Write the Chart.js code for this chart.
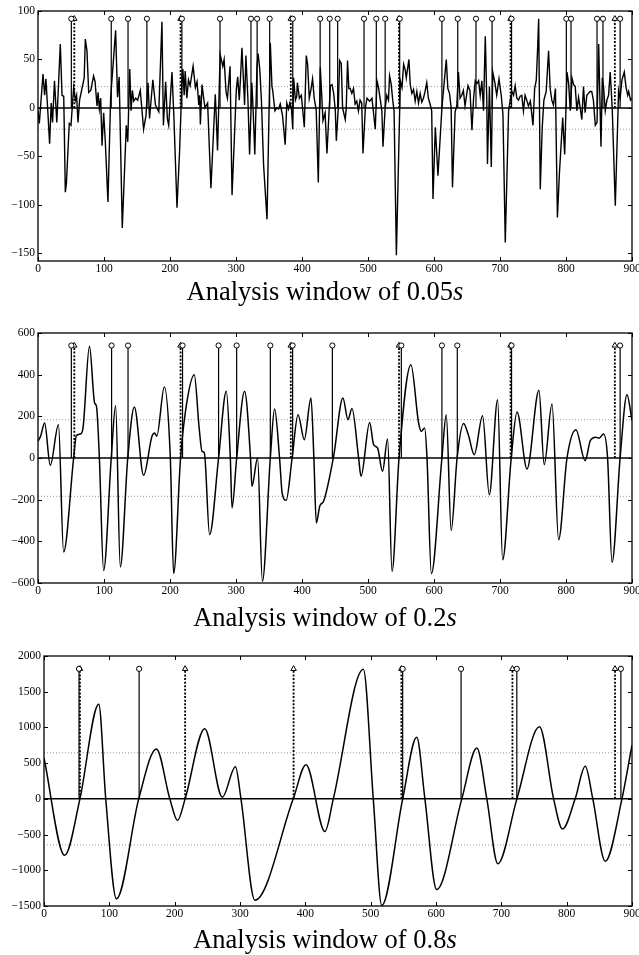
<!DOCTYPE html>
<html><head><meta charset="utf-8">
<script src="https://cdn.jsdelivr.net/npm/chart.js@4/dist/chart.umd.min.js"></script>
<style>
html,body{margin:0;padding:0;background:#fff;overflow:hidden;}
#wrap{position:relative;width:639px;height:955px;overflow:hidden;background:#fff;}
.pc{position:absolute;left:0;width:660px;height:281px;}
.ttl{position:absolute;left:0;width:650px;text-align:center;font-family:'Liberation Serif','Times New Roman',serif;font-size:26.5px;line-height:26px;color:#000;white-space:nowrap;}
</style></head><body>
<div id="wrap">
<div class="pc" style="top:0px"><canvas id="c1" width="660" height="281"></canvas></div>
<div class="pc" style="top:322px"><canvas id="c2" width="660" height="281"></canvas></div>
<div class="pc" style="top:645px"><canvas id="c3" width="660" height="281"></canvas></div>
<div class="ttl" style="top:278px">Analysis window of 0.05<i>s</i></div>
<div class="ttl" style="top:604px">Analysis window of 0.2<i>s</i></div>
<div class="ttl" style="top:926px">Analysis window of 0.8<i>s</i></div>
</div>
<script>
// ---------- data ----------
const xTicks = [0,100,200,300,400,500,600,700,800,900];
const yTicks1 = [-150,-100,-50,0,50,100];
const yTicks2 = [-600,-400,-200,0,200,400,600];
const yTicks3 = [-1500,-1000,-500,0,500,1000,1500,2000];

// signal, window 0.05 s  [sample, value]
const sig05 = [
[0,-3],[2,-16],[7.6,35],[10,13],[12,30],[15,-5],[17.6,-37],[20,5],[22,-15],[25,28],[28.5,-15],[33.8,66],[36.4,13],[39,12],[41.4,-87],[43,-78],[47.4,-16],[50,-18],[54,21],[56.7,8],[58.5,13],[60.6,-15],[63,8],[70,31],[71.7,71],[74.2,59],[76.8,16],[80,18],[84.2,33],[86.5,27],[89.4,2],[91,16],[93,-1],[95,10],[97,-39],[99.5,-5],[102,-35],[106,-97],[110,10],[117.6,80],[120.5,11],[123,32],[127.7,-124],[133.8,-18],[136,-35],[139,40],[141,-3],[143,18],[145,7],[148,10],[151,8],[155,18],[160,-22],[163.6,-8],[166.7,26],[169,-11],[174,29],[178,3],[183,-4],[187.8,89],[190,-18],[193.4,27],[196,-11],[198,-18],[203,37],[206,-11],[210.6,-103],[214.5,-45],[218,25],[219.5,40],[221.5,13],[223,38],[225.5,10],[228,29],[230.5,23],[235,43],[238.5,21],[241,27],[243.6,3],[245,13],[246,-17],[248.5,24],[251,10],[253,0],[257,5],[262,-83],[268.6,14],[270,-8],[272,-44],[276,55],[280,43],[282,50],[285,16],[287,10],[291,43],[294,-90],[297,-40],[300.5,19],[302.5,32],[305,8],[306.5,27],[309,62],[313,3],[315,54],[318,10],[320.6,-48],[324,26],[326,-3],[328.5,-48],[331.8,43],[333.5,56],[336,40],[338.5,8],[341.8,-59],[347,-115],[352,67],[354.5,22],[355.6,18],[359,-3],[362,0],[364.5,-1],[367,4],[370.5,-8],[374.5,-38],[377,5],[379.5,-1],[381.5,5],[384,0],[386,-22],[387.3,31],[390,8],[392,12],[393,26],[396,10],[399,13],[403.5,-20],[406.5,54],[408.5,45],[411,10],[413.6,19],[416,30],[418.5,10],[421.5,-2],[424.7,-77],[427.7,42],[431.8,-13],[435,-5],[437.8,-47],[443,23],[445.5,24],[448,15],[450.5,-3],[452,-34],[455,0],[457,49],[459.5,46],[461.5,0],[465.5,-12],[467,-1],[469,49],[471,20],[473,20],[475.5,15],[478,20],[480.5,4],[483,7],[485.5,-3],[488,8],[490.5,5],[492.4,-47],[496,0],[498.5,10],[502.5,7],[506,10],[511,-22],[513.6,28],[516,21],[518.5,9],[521,-3],[522.7,-40],[526,0],[528.5,13],[531,8],[532.7,33],[535,25],[537.5,8],[539.5,-3],[543,-152],[549,28],[551.5,21],[554,45],[556.5,39],[558,31],[562,50],[564,24],[566.5,15],[569,19],[571.5,7],[574,17],[576.5,5],[579,15],[581.5,6],[584,10],[586.5,17],[589,26],[591.5,10],[594,4],[596.5,-3],[598.5,-94],[602,-20],[606,-70],[612,0],[618.6,50],[621,20],[623.5,15],[626,0],[628,-82],[632,-4],[634.5,2],[637,37],[639.5,10],[642,13],[644.5,18],[647,2],[651.5,23],[654.5,18],[657.5,-23],[660,10],[662.5,28],[665,25],[667.6,28],[670,13],[672.5,28],[675,-3],[677.7,74],[680,8],[681,-58],[684,22],[686.8,-61],[689,37],[692.5,25],[695,13],[698.5,30],[702,12],[704.5,-7],[708,-139],[713,-3],[715.5,8],[718,17],[720.5,13],[723,23],[725.5,10],[728,8],[730.5,12],[733,13],[735.5,-3],[738,13],[740.5,8],[743,2],[746,7],[750,-18],[752.5,20],[755,29],[757,61],[758.6,92],[761,-84],[764,-20],[766.5,8],[770,17],[773.6,59],[776,20],[778.5,8],[781,3],[784,20],[787,-113],[790,-68],[795,-10],[798,-48],[801.5,37],[804,25],[806.5,-3],[809,31],[811.5,24],[814,22],[816.5,-3],[819,11],[821.5,0],[824,-12],[826.5,22],[829,-5],[831.5,13],[834,15],[836.5,17],[839,17],[841.5,8],[844.4,-18],[847,-15],[849.5,66],[851,20],[853,-40],[855,31],[857,21],[859.5,-3],[862,8],[864.5,13],[867,37],[870,0],[874.7,-101],[879.7,18],[882,10],[884.8,29],[888.3,37],[891,21],[893.5,13],[895,17],[897.7,8],[900,10]
];
// signal, window 0.2 s
const sig02 = [
[0,80],[4,105],[10,168],[18.6,-35],[31,160],[38.8,-451],[54,0],[58,107],[64,115],[68,140],[78,536],[85.8,264],[88.6,248],[93,0],[99.4,-540],[111,0],[117.6,251],[124.7,-523],[136,0],[146,245],[160,-83],[172.7,104],[176.7,120],[180,105],[191.4,341],[200.5,0],[205.5,-555],[216,0],[224.7,251],[236.8,400],[244,150],[248.5,32],[252,25],[260,-368],[273.6,0],[285.3,320],[291.4,0],[294,-240],[301,0],[313,320],[322,0],[324.2,-136],[332.7,0],[340,-592],[352,0],[358.5,235],[366,0],[370,-170],[376,-203],[385,0],[394,208],[403.5,88],[413.6,288],[418,0],[421.7,-312],[427,-230],[432.7,-208],[447.9,8],[462,288],[469.7,184],[475.7,238],[485.8,0],[489.4,-88],[502.5,171],[508.5,64],[514.5,48],[522,-64],[529.7,91],[536.4,-544],[547,0],[565,448],[576.7,168],[580.8,128],[585.8,144],[589.4,0],[596,-555],[612,0],[618.6,208],[626,-348],[635,0],[644.8,165],[652,112],[661,16],[673.6,203],[683.8,-176],[696.4,280],[704,-488],[717,0],[725.8,221],[741,-53],[759,325],[767,-32],[778.8,259],[788.8,-392],[801.5,0],[815,136],[829,-13],[837,85],[845,100],[850,95],[857,115],[863,0],[869.7,-501],[882,0],[892.4,304],[900,180]
];
// signal, window 0.8 s
const sig08 = [
[0,572],[31.7,-791],[55,0],[83.8,1325],[94.5,0],[110.9,-1400],[145,0],[172,698],[192.6,0],[204.4,-302],[216,0],[246,981],[273,24],[293,451],[301.5,0],[322.8,-1419],[381.5,0],[401,479],[430,-456],[442.8,0],[488.8,1814],[504,0],[517,-1493],[549,0],[570.5,861],[583,0],[601,-1270],[639.5,0],[662.5,711],[677.8,0],[694.6,-907],[723.8,0],[758.4,1009],[780,0],[793.6,-423],[813,0],[828.4,455],[840,0],[859,-874],[884.6,0],[900,753]
];

// detected (circles) and reference (triangles) positions
const circ05 = [50.5,111,136.4,165,218,275.8,322.7,332,351,386,427.5,442,454,494,512.6,526,548,612,636,663.6,688,717.5,800.5,807.6,847,856,882];
const tri05  = [55,216,383,547,716,874];
const circ02 = [50.5,111.5,136.4,219,273.6,301,352,385.8,446,550.5,612,635.3,717.5,882];
const tri02  = [55,216,383,547,716,874];
const circ08 = [53.6,145.6,549,638.4,723.7,883];
const tri08  = [55,216,382,547,717,874];

const markH = [92, 540, 1820];
const thr   = [22, 184, 645];
const yRange = [[-158,100],[-600,600],[-1500,2000]];

// ---------- drawing ----------
const FONT = "'Liberation Serif','Times New Roman',serif";
const fmt = v => v < 0 ? '\u2212' + Math.abs(v) : String(v);

const framePlugin = {
  id: 'frame',
  afterDatasetsDraw(chart) {
    const {ctx, chartArea: a, scales: {x, y}} = chart;
    ctx.save();
    ctx.strokeStyle = '#000';
    ctx.lineWidth = 1;
    const L = 4;
    ctx.beginPath();
    x.ticks.forEach(t => {
      const p = Math.round(x.getPixelForValue(t.value)) + 0.5;
      ctx.moveTo(p, a.bottom); ctx.lineTo(p, a.bottom - L);
      ctx.moveTo(p, a.top); ctx.lineTo(p, a.top + L);
    });
    y.ticks.forEach(t => {
      const p = Math.round(y.getPixelForValue(t.value)) + 0.5;
      ctx.moveTo(a.left, p); ctx.lineTo(a.left + L, p);
      ctx.moveTo(a.right, p); ctx.lineTo(a.right - L, p);
    });
    ctx.stroke();
    ctx.lineWidth = 1.3;
    ctx.strokeRect(a.left, a.top, a.right - a.left, a.bottom - a.top);
    ctx.restore();
  }
};

function stems(xs, h) {
  const out = [];
  xs.forEach(v => { out.push({x: v, y: 0}, {x: v, y: h}, {x: v, y: null}); });
  return out;
}

function makePanel(id, sig, circ, tri, k, yTicks, yw, smooth, sigW) {
  const [ymin, ymax] = yRange[k];
  const h = markH[k], t = thr[k];
  new Chart(document.getElementById(id), {
    type: 'line',
    data: {
      datasets: [
        {data: circ.map(v => ({x: v, y: h})), showLine: false, pointRadius: 2.6, pointStyle: 'circle',
         pointBackgroundColor: '#fff', pointBorderColor: '#000', pointBorderWidth: 1, order: 0},
        {data: tri.map(v => ({x: v, y: h})), showLine: false, pointRadius: 3.2, pointStyle: 'triangle',
         pointBackgroundColor: '#fff', pointBorderColor: '#000', pointBorderWidth: 1, order: 0},
        {data: stems(circ, h), borderColor: '#000', borderWidth: 1.2, pointRadius: 0, spanGaps: false, order: 1},
        {data: stems(tri, h), borderColor: '#000', borderWidth: 1.8, borderDash: [2, 1.6], pointRadius: 0, spanGaps: false, order: 1},
        {data: sig.map(p => ({x: p[0], y: p[1]})), borderColor: '#000', borderWidth: sigW, pointRadius: 0,
         cubicInterpolationMode: smooth ? 'monotone' : 'default', tension: 0, order: 2},
        {data: [{x: 0, y: 0}, {x: 900, y: 0}], borderColor: '#000', borderWidth: 1.5, pointRadius: 0, order: 3},
        {data: [{x: 0, y: t}, {x: 900, y: t}], borderColor: '#999', borderWidth: 1, borderDash: [1, 2], pointRadius: 0, order: 4},
        {data: [{x: 0, y: -t}, {x: 900, y: -t}], borderColor: '#999', borderWidth: 1, borderDash: [1, 2], pointRadius: 0, order: 4}
      ]
    },
    options: {
      responsive: false, animation: false, devicePixelRatio: 1,
      layout: {padding: {left: 0, right: 28, top: 11, bottom: 0}},
      plugins: {legend: {display: false}, tooltip: {enabled: false}},
      events: [],
      scales: {
        x: {
          type: 'linear', min: 0, max: 900,
          afterBuildTicks: s => { s.ticks = xTicks.map(v => ({value: v})); },
          afterFit: s => { s.height = 20; },
          grid: {display: false, drawTicks: false}, border: {display: false},
          ticks: {callback: v => fmt(v), font: {family: FONT, size: 11.5}, color: '#000', padding: 1,
                  maxRotation: 0, autoSkip: false}
        },
        y: {
          type: 'linear', min: ymin, max: ymax,
          afterBuildTicks: s => { s.ticks = yTicks.map(v => ({value: v})); },
          afterFit: s => { s.width = yw; },
          grid: {display: false, drawTicks: false}, border: {display: false},
          ticks: {callback: v => fmt(v), font: {family: FONT, size: 11.5}, color: '#000', padding: 3, autoSkip: false}
        }
      }
    },
    plugins: [framePlugin]
  });
}

makePanel('c1', sig05, circ05, tri05, 0, yTicks1, 38, false, 1.4);
makePanel('c2', sig02, circ02, tri02, 1, yTicks2, 38, true, 1.5);
makePanel('c3', sig08, circ08, tri08, 2, yTicks3, 44, true, 1.5);
</script>
</body></html>
